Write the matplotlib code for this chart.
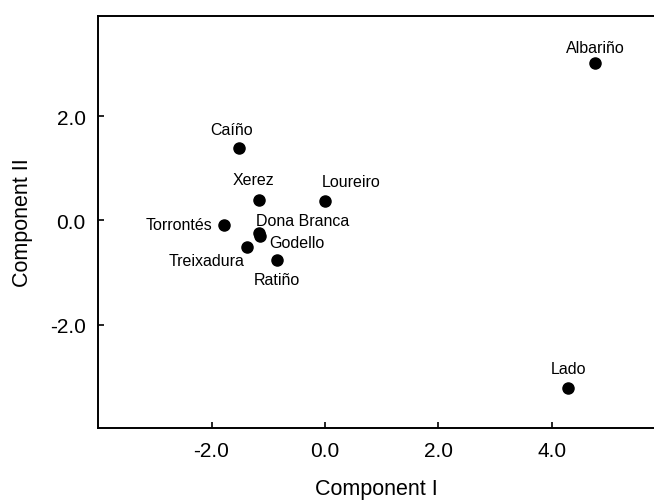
import matplotlib
matplotlib.use('Agg')
import matplotlib.pyplot as plt

plt.rcParams['font.family'] = ['Liberation Sans', 'DejaVu Sans']

# PCA scores
varieties = ['Albariño', 'Caíño', 'Xerez', 'Loureiro', 'Torrontés',
             'Dona Branca', 'Godello', 'Treixadura', 'Ratiño', 'Lado']
comp1 = [4.76, -1.52, -1.17, 0.0, -1.78, -1.17, -1.14, -1.37, -0.84, 4.29]
comp2 = [3.02, 1.39, 0.40, 0.37, -0.08, -0.25, -0.30, -0.51, -0.75, -3.22]

# label offsets (points) and alignment for each variety
offsets = {
    'Albariño': ((0, 8), 'center'),
    'Caíño': ((-5, 10), 'center'),
    'Xerez': ((-4, 11), 'center'),
    'Loureiro': ((-2, 11), 'left'),
    'Torrontés': ((-8.5, -3), 'right'),
    'Dona Branca': ((-2, 6), 'left'),
    'Godello': ((6.5, -7.5), 'left'),
    'Treixadura': ((-2, -13), 'right'),
    'Ratiño': ((0, -17.5), 'center'),
    'Lado': ((0, 11), 'center'),
}

fig = plt.figure(figsize=(6.54, 5.02), dpi=100)
ax = fig.add_axes([0.150, 0.1454, 0.850, 0.8207])

ax.plot(comp1, comp2, 'o', color='black', markersize=8, linestyle='none')

for name, x, y in zip(varieties, comp1, comp2):
    off, ha = offsets[name]
    ax.annotate(name, (x, y), xytext=off, textcoords='offset points',
                ha=ha, va='baseline', fontsize=11.5)

ax.set_xlim(-4.0, 5.8)
ax.set_ylim(-3.98, 3.92)
ax.set_xticks([-2, 0, 2, 4])
ax.set_yticks([-2, 0, 2])
ax.set_xticklabels(['-2.0', '0.0', '2.0', '4.0'])
ax.set_yticklabels(['-2.0', '0.0', '2.0'])
ax.tick_params(direction='in', length=4, width=1.2, labelsize=15, pad=9)

for s in ['left', 'bottom', 'top']:
    ax.spines[s].set_linewidth(1.4)
ax.spines['right'].set_visible(False)

ax.set_xlabel('Component I', fontsize=15.5, labelpad=13)
ax.set_ylabel('Component II', fontsize=15.5, labelpad=12)

fig.savefig('out.png', dpi=100)
